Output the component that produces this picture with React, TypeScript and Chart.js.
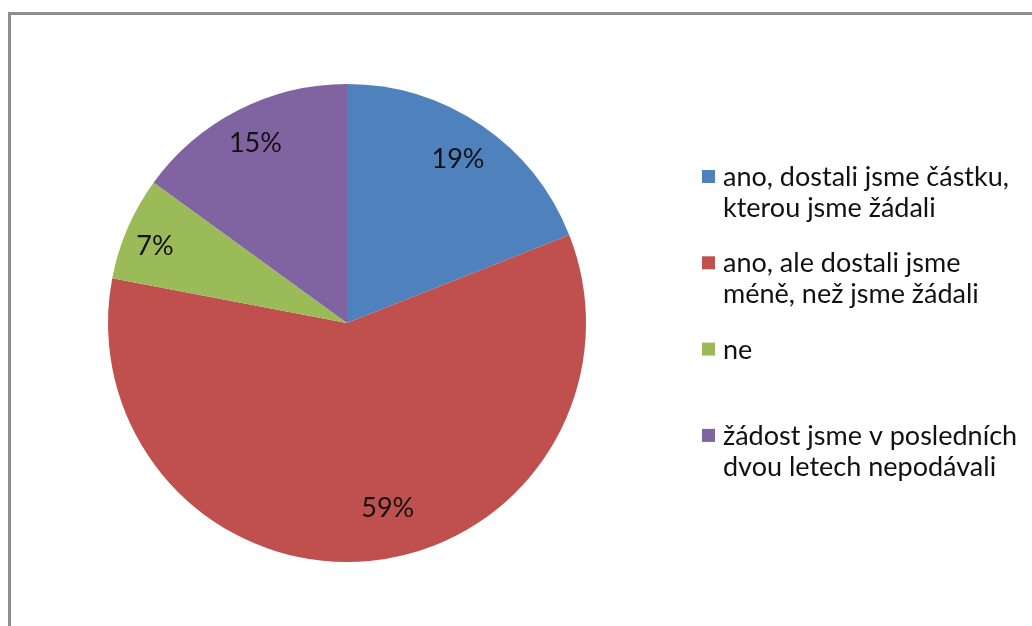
import React, { useEffect, useRef } from "react";
import { Chart, registerables } from "chart.js";

Chart.register(...registerables);

const categories: string[][] = [
  ["ano, dostali jsme částku,", "kterou jsme žádali"],
  ["ano, ale dostali jsme", "méně, než jsme žádali"],
  ["ne"],
  ["žádost jsme v posledních", "dvou letech nepodávali"],
];
const shares: number[] = [19, 59, 7, 15];
const colors: string[] = ["#4F81BD", "#C0504D", "#9BBB59", "#8064A2"];

// label placement (style): radial fraction and angle nudge (degrees)
const labelRadius: number[] = [0.826, 0.793, 0.866, 0.844];
const labelNudge: number[] = [0, -7, -1.5, 0];

const FONT = "Lato, 'Liberation Sans', sans-serif";
const FONT_SIZE = 27;

const labelsPlugin = {
  id: "pieLabels",
  afterDatasetsDraw(chart: any) {
    const ctx = chart.ctx;
    const meta = chart.getDatasetMeta(0);
    const ds = chart.data.datasets[0];
    const total = (ds.data as number[]).reduce((a, b) => a + b, 0);
    ctx.save();
    ctx.font = `${FONT_SIZE}px ${FONT}`;
    ctx.fillStyle = "#111";
    ctx.textAlign = "center";
    ctx.textBaseline = "middle";
    meta.data.forEach((arc: any, i: number) => {
      const { x, y, startAngle, endAngle, outerRadius } = arc.getProps(
        ["x", "y", "startAngle", "endAngle", "outerRadius"],
        true
      );
      const mid = (startAngle + endAngle) / 2 + (labelNudge[i] * Math.PI) / 180;
      const r = outerRadius * labelRadius[i];
      const pct = Math.round((ds.data[i] / total) * 100);
      ctx.fillText(`${pct}%`, x + Math.cos(mid) * r, y + Math.sin(mid) * r);
    });
    ctx.restore();
  },
};

const legendPlugin = {
  id: "sideLegend",
  afterDraw(chart: any) {
    const ctx = chart.ctx;
    const labels = chart.data.labels as string[][];
    const bg = chart.data.datasets[0].backgroundColor as string[];
    const left = 702;
    const textX = 723;
    const firstBaseline = 186;
    const slot = 86.3;
    const lineH = 30.7;
    const box = 13;
    ctx.save();
    ctx.font = `${FONT_SIZE}px ${FONT}`;
    ctx.textAlign = "left";
    ctx.textBaseline = "alphabetic";
    labels.forEach((lines, i) => {
      const base = firstBaseline + i * slot;
      ctx.fillStyle = bg[i];
      ctx.fillRect(left, base - 16, box, box);
      ctx.fillStyle = "#111";
      lines.forEach((ln, j) => ctx.fillText(ln, textX, base + j * lineH));
    });
    ctx.restore();
  },
};

export default function App() {
  const ref = useRef<HTMLCanvasElement | null>(null);
  useEffect(() => {
    if (!ref.current) return;
    const chart = new Chart(ref.current, {
      type: "pie",
      data: {
        labels: categories as any,
        datasets: [
          {
            data: shares,
            backgroundColor: colors,
            borderWidth: 0,
          },
        ],
      },
      options: {
        responsive: false,
        animation: false,
        layout: { padding: { left: 108, right: 446, top: 84, bottom: 64 } },
        plugins: {
          legend: { display: false },
          tooltip: { enabled: false },
          title: { display: false },
        },
      },
      plugins: [labelsPlugin, legendPlugin],
    });
    return () => chart.destroy();
  }, []);
  return (
    <div style={{ position: "fixed", left: 0, top: 0, width: 1032, height: 626, background: "#fff", overflow: "hidden" }}>
      <div
        style={{
          position: "absolute",
          left: 8,
          top: 12,
          width: 1100,
          height: 700,
          borderLeft: "3px solid #8e8e8e",
          borderTop: "3px solid #8e8e8e",
        }}
      />
      <canvas ref={ref} width={1032} height={626} style={{ position: "absolute", left: 0, top: 0, display: "block" }} />
    </div>
  );
}
